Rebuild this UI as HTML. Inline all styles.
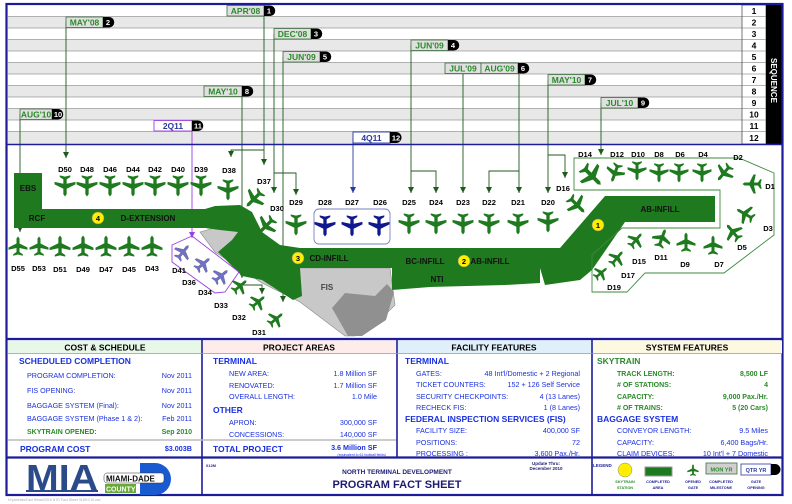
<!DOCTYPE html>
<html><head><meta charset="utf-8"><style>
body{margin:0;background:#fff}
svg{display:block;font-family:"Liberation Sans",sans-serif;font-weight:bold}
</style></head><body>
<svg width="792" height="504" viewBox="0 0 792 504" xmlns="http://www.w3.org/2000/svg">
<defs>
<symbol id="p" viewBox="-10 -10 20 20"><path d="M0,-9.5 L1.5,-7.5 L1.5,-2.5 L9.5,1.5 L9.5,3.8 L1.5,2 L1.5,6 L4.8,8.2 L4.8,9.7 L0,8.5 L-4.8,9.7 L-4.8,8.2 L-1.5,6 L-1.5,2 L-9.5,3.8 L-9.5,1.5 L-1.5,-2.5 L-1.5,-7.5Z"/></symbol>
<marker id="a" viewBox="0 0 6 6" refX="3" refY="6" markerWidth="6" markerHeight="6" markerUnits="userSpaceOnUse" orient="0"><path d="M0,0 L6,0 L3,6Z" fill="#1f5a1f"/></marker>
<marker id="ab" viewBox="0 0 6 6" refX="3" refY="6" markerWidth="6" markerHeight="6" markerUnits="userSpaceOnUse" orient="0"><path d="M0,0 L6,0 L3,6Z" fill="#2a3aa0"/></marker>
<marker id="ap" viewBox="0 0 6 6" refX="3" refY="6" markerWidth="6" markerHeight="6" markerUnits="userSpaceOnUse" orient="0"><path d="M0,0 L6,0 L3,6Z" fill="#9a40e0"/></marker>
</defs>
<rect width="792" height="504" fill="#fff"/>
<!-- sequence rows -->
<g>
<rect x="8" y="5" width="734" height="11.5" fill="#fff"/>
<rect x="8" y="16.5" width="734" height="11.5" fill="#e8e8e8"/>
<rect x="8" y="28" width="734" height="11.5" fill="#fff"/>
<rect x="8" y="39.5" width="734" height="11.5" fill="#e8e8e8"/>
<rect x="8" y="51" width="734" height="11.5" fill="#fff"/>
<rect x="8" y="62.5" width="734" height="11.5" fill="#e8e8e8"/>
<rect x="8" y="74" width="734" height="11.5" fill="#fff"/>
<rect x="8" y="85.5" width="734" height="11.5" fill="#e8e8e8"/>
<rect x="8" y="97" width="734" height="11.5" fill="#fff"/>
<rect x="8" y="108.5" width="734" height="11.5" fill="#e8e8e8"/>
<rect x="8" y="120" width="734" height="11.5" fill="#fff"/>
<rect x="8" y="131.5" width="734" height="12.5" fill="#e8e8e8"/>
<g stroke="#9a9a9a" stroke-width="0.8">
<line x1="8" y1="16.5" x2="766" y2="16.5"/><line x1="8" y1="28" x2="766" y2="28"/><line x1="8" y1="39.5" x2="766" y2="39.5"/><line x1="8" y1="51" x2="766" y2="51"/><line x1="8" y1="62.5" x2="766" y2="62.5"/><line x1="8" y1="74" x2="766" y2="74"/><line x1="8" y1="85.5" x2="766" y2="85.5"/><line x1="8" y1="97" x2="766" y2="97"/><line x1="8" y1="108.5" x2="766" y2="108.5"/><line x1="8" y1="120" x2="766" y2="120"/><line x1="8" y1="131.5" x2="766" y2="131.5"/>
</g>
<rect x="742" y="5" width="24" height="139" fill="none" stroke="#555" stroke-width="0.8"/>
<rect x="766" y="5" width="16" height="139" fill="#000"/>
<text transform="translate(771,58) rotate(90)" font-size="8" fill="#fff">SEQUENCE</text>
<g font-size="8.5" fill="#000" text-anchor="middle">
<text x="754" y="14">1</text><text x="754" y="25.5">2</text><text x="754" y="37">3</text><text x="754" y="48.5">4</text><text x="754" y="60">5</text><text x="754" y="71.5">6</text><text x="754" y="83">7</text><text x="754" y="94.5">8</text><text x="754" y="106">9</text><text x="754" y="117.5">10</text><text x="754" y="129">11</text><text x="754" y="141">12</text>
</g>
</g>
<!-- connectors -->
<g stroke="#1f5a1f" stroke-width="0.9" fill="none">
<polyline points="264,11 264,165" marker-end="url(#a)"/>
<polyline points="264,150 231,150 231,157" marker-end="url(#a)"/>
<polyline points="66,22 66,158" marker-end="url(#a)"/>
<polyline points="274,34 274,193" marker-end="url(#a)"/>
<polyline points="274,173 296,173 296,195" marker-end="url(#a)"/>
<polyline points="283,57 283,302" marker-end="url(#a)"/>
<polyline points="242,91 242,278" marker-end="url(#a)"/>
<polyline points="242,285 262,285 262,294" marker-end="url(#a)"/>
<polyline points="20,114 20,232" marker-end="url(#a)"/>
<polyline points="411,45 411,193" marker-end="url(#a)"/>
<polyline points="411,171 436,171 436,193" marker-end="url(#a)"/>
<polyline points="463,74 463,193" marker-end="url(#a)"/>
<polyline points="519,74 519,193" marker-end="url(#a)"/>
<polyline points="519,171 489,171 489,193" marker-end="url(#a)"/>
<polyline points="548,80 548,193" marker-end="url(#a)"/>
<polyline points="548,155 565,155 565,178" marker-end="url(#a)"/>
<polyline points="601,103 601,155" marker-end="url(#a)"/>
</g>
<polyline points="192,126 192,238" stroke="#9a40e0" stroke-width="0.9" fill="none" marker-end="url(#ap)"/>
<polyline points="353,138 353,193" stroke="#2a3aa0" stroke-width="0.9" fill="none" marker-end="url(#ab)"/>
<!-- milestone labels -->
<g font-size="8.5" text-anchor="middle">
<g fill="#e0e0e0" stroke="#3d6e3d" stroke-width="0.8">
<rect x="227" y="5.5" width="37" height="10.5"/><rect x="66" y="17" width="37" height="10.5"/><rect x="274" y="28.5" width="37" height="10.5"/><rect x="411" y="40" width="37" height="10.5"/><rect x="283" y="51.5" width="37" height="10.5"/><rect x="445" y="63" width="36" height="10.5"/><rect x="481" y="63" width="37" height="10.5"/><rect x="548" y="74.5" width="37" height="10.5"/><rect x="204" y="86" width="38" height="10.5"/><rect x="601" y="97.5" width="37" height="10.5"/><rect x="20" y="109" width="32" height="10.5"/>
</g>
<rect x="154" y="120.5" width="38" height="10.5" fill="#fff" stroke="#9a40e0" stroke-width="0.9"/>
<rect x="353" y="132" width="37" height="11" fill="#fff" stroke="#2a3aa0" stroke-width="0.9"/>
<g fill="#000">
<path d="M264,5.5h6a5.25,5.25 0 0 1 0,10.5h-6z"/><path d="M103,17h6a5.25,5.25 0 0 1 0,10.5h-6z"/><path d="M311,28.5h6a5.25,5.25 0 0 1 0,10.5h-6z"/><path d="M448,40h6a5.25,5.25 0 0 1 0,10.5h-6z"/><path d="M320,51.5h6a5.25,5.25 0 0 1 0,10.5h-6z"/><path d="M518,63h6a5.25,5.25 0 0 1 0,10.5h-6z"/><path d="M585,74.5h6a5.25,5.25 0 0 1 0,10.5h-6z"/><path d="M242,86h6a5.25,5.25 0 0 1 0,10.5h-6z"/><path d="M638,97.5h6a5.25,5.25 0 0 1 0,10.5h-6z"/><path d="M52,109h6a5.25,5.25 0 0 1 0,10.5h-6z"/><path d="M192,120.5h6a5.25,5.25 0 0 1 0,10.5h-6z"/><path d="M390,132h6a5.5,5.5 0 0 1 0,11h-6z"/>
</g>
<g fill="#2a8a2a">
<text x="245.5" y="14">APR'08</text><text x="84.5" y="25.5">MAY'08</text><text x="292.5" y="37">DEC'08</text><text x="429.5" y="48.5">JUN'09</text><text x="301.5" y="60">JUN'09</text><text x="463" y="71.5">JUL'09</text><text x="499.5" y="71.5">AUG'09</text><text x="566.5" y="83">MAY'10</text><text x="223" y="94.5">MAY'10</text><text x="619.5" y="106">JUL'10</text><text x="36" y="117.5">AUG'10</text>
</g>
<text x="173" y="129" fill="#2a3aa0">2Q11</text><text x="371.5" y="141" fill="#2a3aa0">4Q11</text>
<g fill="#fff" font-size="7.5">
<text x="269" y="13.5">1</text><text x="108" y="25">2</text><text x="316" y="36.5">3</text><text x="453" y="48">4</text><text x="325" y="59.5">5</text><text x="523" y="71">6</text><text x="590" y="82.5">7</text><text x="247" y="94">8</text><text x="643" y="105.5">9</text><text x="58" y="117">10</text><text x="198" y="128.5">11</text><text x="396" y="140.5">12</text>
</g>
</g>
<!-- map -->
<polygon points="200,232 235,222 255,240 282,268 390,268 395,305 378,322 355,336 345,336 300,302 262,283 215,252" fill="#c8c8c8" stroke="#888" stroke-width="0.6"/>
<polygon points="332,308 345,293 375,296 387,284 394,292 386,320 362,336 348,336" fill="#909090"/>
<g fill="#1f7a1f">
<rect x="14" y="173" width="28" height="38"/>
<polygon points="14,209 205,209 215,206 240,205 252,212 262,232 280,245 300,248 410,248 410,268 300,268 302,296 293,300 262,280 242,276 218,252 232,240 238,232 220,230 205,228 14,228"/>
<rect x="375" y="248" width="185" height="20"/>
<polygon points="392,268 540,268 540,283 505,285 430,287 392,290"/>
<polygon points="540,268 560,248 605,196 715,196 715,222 625,222 592,270 580,280 545,285"/>
</g>
<g fill="none" stroke="#3d8a3d" stroke-width="0.9">
<polygon points="574,158 739,158 774,173 774,235 724,273 645,273 627,292 592,292 592,255 622,228 720,228 720,190 574,190"/>
</g>
<polygon points="172,245 192,236 239,272 225,292 215,293 172,262" fill="none" stroke="#9a40e0" stroke-width="0.9"/>
<rect x="314" y="209" width="76" height="35" rx="5" fill="none" stroke="#7a80c0" stroke-width="0.9"/>
<g font-size="8" fill="#111" text-anchor="middle">
<text x="28" y="191">EBS</text><text x="37" y="221">RCF</text><text x="148" y="221">D-EXTENSION</text><text x="329" y="261">CD-INFILL</text><text x="327" y="290" fill="#444">FIS</text><text x="425" y="264">BC-INFILL</text><text x="490" y="264">AB-INFILL</text><text x="437" y="282">NTI</text><text x="660" y="212">AB-INFILL</text>
</g>
<g fill="#ffee00" stroke="#888" stroke-width="0.5">
<circle cx="98" cy="218" r="6"/><circle cx="298" cy="258" r="6"/><circle cx="464" cy="261" r="6"/><circle cx="598" cy="225" r="6"/>
</g>
<g font-size="7.5" fill="#000" text-anchor="middle">
<text x="98" y="221">4</text><text x="298" y="261">3</text><text x="464" y="264">2</text><text x="598" y="228">1</text>
</g>
<!-- planes -->
<g fill="#1f7a1f">
<use href="#p" x="-11" y="-11" width="22" height="22" transform="translate(65,186) rotate(180)"/>
<use href="#p" x="-11" y="-11" width="22" height="22" transform="translate(87,186) rotate(180)"/>
<use href="#p" x="-11" y="-11" width="22" height="22" transform="translate(110,186) rotate(180)"/>
<use href="#p" x="-11" y="-11" width="22" height="22" transform="translate(133,186) rotate(180)"/>
<use href="#p" x="-11" y="-11" width="22" height="22" transform="translate(155,186) rotate(180)"/>
<use href="#p" x="-11" y="-11" width="22" height="22" transform="translate(178,186) rotate(180)"/>
<use href="#p" x="-11" y="-11" width="22" height="22" transform="translate(201,186) rotate(180)"/>
<use href="#p" x="-11" y="-11" width="22" height="22" transform="translate(228,190) rotate(180)"/>
<use href="#p" x="-11" y="-11" width="22" height="22" transform="translate(254,199) rotate(225)"/>
<use href="#p" x="-11" y="-11" width="22" height="22" transform="translate(266,226) rotate(225)"/>
<use href="#p" x="-11" y="-11" width="22" height="22" transform="translate(296,225) rotate(180)"/>
<use href="#p" x="-11" y="-11" width="22" height="22" transform="translate(409,224) rotate(180)"/>
<use href="#p" x="-11" y="-11" width="22" height="22" transform="translate(436,224) rotate(180)"/>
<use href="#p" x="-11" y="-11" width="22" height="22" transform="translate(463,224) rotate(180)"/>
<use href="#p" x="-11" y="-11" width="22" height="22" transform="translate(489,224) rotate(180)"/>
<use href="#p" x="-11" y="-11" width="22" height="22" transform="translate(518,224) rotate(180)"/>
<use href="#p" x="-11" y="-11" width="22" height="22" transform="translate(548,222) rotate(180)"/>
<use href="#p" x="-11" y="-11" width="22" height="22" transform="translate(577,205) rotate(135)"/>
<use href="#p" x="-13" y="-13" width="26" height="26" transform="translate(592,176) rotate(135)"/>
<use href="#p" x="-10" y="-10" width="20" height="20" transform="translate(615,173) rotate(200)"/>
<use href="#p" x="-10" y="-10" width="20" height="20" transform="translate(637,171) rotate(180)"/>
<use href="#p" x="-10" y="-10" width="20" height="20" transform="translate(659,173) rotate(180)"/>
<use href="#p" x="-10" y="-10" width="20" height="20" transform="translate(679,173) rotate(180)"/>
<use href="#p" x="-10" y="-10" width="20" height="20" transform="translate(702,173) rotate(180)"/>
<use href="#p" x="-10" y="-10" width="20" height="20" transform="translate(724,173) rotate(220)"/>
<use href="#p" x="-10" y="-10" width="20" height="20" transform="translate(752,184) rotate(270)"/>
<use href="#p" x="-10" y="-10" width="20" height="20" transform="translate(745,214) rotate(300)"/>
<use href="#p" x="-10" y="-10" width="20" height="20" transform="translate(733,232) rotate(320)"/>
<use href="#p" x="-10" y="-10" width="20" height="20" transform="translate(713,245) rotate(0)"/>
<use href="#p" x="-10" y="-10" width="20" height="20" transform="translate(686,242) rotate(0)"/>
<use href="#p" x="-10" y="-10" width="20" height="20" transform="translate(662,238) rotate(20)"/>
<use href="#p" x="-9" y="-9" width="18" height="18" transform="translate(636,240) rotate(40)"/>
<use href="#p" x="-9" y="-9" width="18" height="18" transform="translate(617,258) rotate(40)"/>
<use href="#p" x="-8" y="-8" width="16" height="16" transform="translate(601,273) rotate(50)"/>
<use href="#p" x="-10" y="-10" width="20" height="20" transform="translate(18,246)"/>
<use href="#p" x="-10" y="-10" width="20" height="20" transform="translate(39,246)"/>
<use href="#p" x="-11" y="-11" width="22" height="22" transform="translate(60,246)"/>
<use href="#p" x="-11" y="-11" width="22" height="22" transform="translate(83,246)"/>
<use href="#p" x="-11" y="-11" width="22" height="22" transform="translate(106,246)"/>
<use href="#p" x="-11" y="-11" width="22" height="22" transform="translate(129,246)"/>
<use href="#p" x="-11" y="-11" width="22" height="22" transform="translate(152,246)"/>
<use href="#p" x="-9" y="-9" width="18" height="18" transform="translate(240,286) rotate(50)"/>
<use href="#p" x="-9" y="-9" width="18" height="18" transform="translate(258,302) rotate(50)"/>
<use href="#p" x="-9" y="-9" width="18" height="18" transform="translate(276,319) rotate(50)"/>
</g>
<g fill="#7070c8" stroke="#333" stroke-width="0.2">
<use href="#p" x="-9" y="-9" width="18" height="18" transform="translate(183,252) rotate(40)"/>
<use href="#p" x="-9" y="-9" width="18" height="18" transform="translate(203,264) rotate(50)"/>
<use href="#p" x="-9" y="-9" width="18" height="18" transform="translate(221,276) rotate(50)"/>
</g>
<g fill="#101890">
<use href="#p" x="-11" y="-11" width="22" height="22" transform="translate(325,226) rotate(180)"/>
<use href="#p" x="-11" y="-11" width="22" height="22" transform="translate(352,226) rotate(180)"/>
<use href="#p" x="-11" y="-11" width="22" height="22" transform="translate(379,226) rotate(180)"/>
</g>
<g font-size="7.5" fill="#000" text-anchor="middle">
<text x="65" y="172">D50</text><text x="87" y="172">D48</text><text x="110" y="172">D46</text><text x="133" y="172">D44</text><text x="155" y="172">D42</text><text x="178" y="172">D40</text><text x="201" y="172">D39</text><text x="229" y="173">D38</text><text x="264" y="184">D37</text><text x="277" y="211">D30</text><text x="296" y="205">D29</text><text x="325" y="205">D28</text><text x="352" y="205">D27</text><text x="380" y="205">D26</text>
<text x="409" y="205">D25</text><text x="436" y="205">D24</text><text x="463" y="205">D23</text><text x="489" y="205">D22</text><text x="518" y="205">D21</text><text x="548" y="205">D20</text><text x="563" y="191">D16</text><text x="585" y="157">D14</text><text x="617" y="157">D12</text><text x="638" y="157">D10</text><text x="659" y="157">D8</text><text x="680" y="157">D6</text><text x="703" y="157">D4</text><text x="738" y="160">D2</text><text x="770" y="189">D1</text><text x="768" y="231">D3</text><text x="742" y="250">D5</text><text x="719" y="267">D7</text><text x="685" y="267">D9</text><text x="661" y="260">D11</text><text x="639" y="264">D15</text><text x="628" y="278">D17</text><text x="614" y="290">D19</text>
<text x="18" y="271">D55</text><text x="39" y="271">D53</text><text x="60" y="272">D51</text><text x="83" y="272">D49</text><text x="106" y="272">D47</text><text x="129" y="272">D45</text><text x="152" y="271">D43</text><text x="179" y="273">D41</text><text x="189" y="285">D36</text><text x="205" y="295">D34</text><text x="221" y="308">D33</text><text x="239" y="320">D32</text><text x="259" y="335">D31</text>
</g>
<!-- frame lines -->
<g fill="none" stroke="#1c1c9a">
<rect x="6.5" y="4" width="776" height="491" stroke-width="2.2"/>
<line x1="6" y1="144.5" x2="783" y2="144.5" stroke-width="1.6"/>
<line x1="6" y1="339" x2="783" y2="339" stroke-width="2.2"/>
<line x1="6" y1="457.5" x2="783" y2="457.5" stroke-width="2.2"/>
<line x1="202" y1="339" x2="202" y2="495" stroke-width="1.6"/>
<line x1="397" y1="339" x2="397" y2="457" stroke-width="1.6"/>
<line x1="592" y1="339" x2="592" y2="495" stroke-width="1.6"/>
</g>
<!-- tables -->
<rect x="8" y="340.5" width="193" height="13" fill="#e8f8e8"/>
<rect x="203" y="340.5" width="193" height="13" fill="#fdecea"/>
<rect x="398" y="340.5" width="193" height="13" fill="#e0f0fa"/>
<rect x="593" y="340.5" width="189" height="13" fill="#fdf8e0"/>
<g stroke="#999" stroke-width="0.8"><line x1="8" y1="353.5" x2="782" y2="353.5"/><line x1="8" y1="440" x2="396" y2="440" stroke="#bbb" stroke-width="1.5"/></g>
<g font-size="8.5" fill="#000" text-anchor="middle">
<text x="105" y="350.5">COST &amp; SCHEDULE</text><text x="299" y="350.5">PROJECT AREAS</text><text x="494" y="350.5">FACILITY FEATURES</text><text x="687" y="350.5">SYSTEM FEATURES</text>
</g>
<g fill="#1a30e0" style="font-weight:normal" font-size="7.2">
<text x="19" y="364" font-size="8.5" style="font-weight:bold">SCHEDULED COMPLETION</text>
<text x="27" y="378">PROGRAM COMPLETION:</text><text x="27" y="393">FIS OPENING:</text><text x="27" y="408">BAGGAGE SYSTEM (Final):</text><text x="27" y="421">BAGGAGE SYSTEM (Phase 1 &amp; 2):</text>
<g text-anchor="end"><text x="192" y="378">Nov 2011</text><text x="192" y="393">Nov 2011</text><text x="192" y="408">Nov 2011</text><text x="192" y="421">Feb 2011</text><text x="192" y="451" style="font-weight:bold">$3.003B</text></g>
<text x="20" y="452" font-size="8.5" style="font-weight:bold">PROGRAM COST</text>
<text x="213" y="364" font-size="8.5" style="font-weight:bold">TERMINAL</text>
<text x="229" y="376">NEW AREA:</text><text x="229" y="388">RENOVATED:</text><text x="229" y="399">OVERALL LENGTH:</text>
<text x="213" y="413" font-size="8.5" style="font-weight:bold">OTHER</text>
<text x="229" y="425">APRON:</text><text x="229" y="437">CONCESSIONS:</text>
<text x="213" y="452" font-size="8.5" style="font-weight:bold">TOTAL PROJECT</text>
<g text-anchor="end"><text x="377" y="376">1.8 Million SF</text><text x="377" y="388">1.7 Million SF</text><text x="377" y="399">1.0 Mile</text><text x="377" y="425">300,000 SF</text><text x="377" y="437">140,000 SF</text><text x="377" y="450" style="font-weight:bold">3.6 Million SF</text><text x="386" y="456" font-size="3.5">(equivalent to 61 football fields)</text></g>
<text x="405" y="364" font-size="8.5" style="font-weight:bold">TERMINAL</text>
<text x="416" y="376">GATES:</text><text x="416" y="387">TICKET COUNTERS:</text><text x="416" y="399">SECURITY CHECKPOINTS:</text><text x="416" y="410">RECHECK FIS:</text>
<text x="405" y="422" font-size="8.5" style="font-weight:bold">FEDERAL INSPECTION SERVICES (FIS)</text>
<text x="416" y="433">FACILITY SIZE:</text><text x="416" y="445">POSITIONS:</text><text x="416" y="456">PROCESSING :</text>
<g text-anchor="end"><text x="580" y="376">48 Int'l/Domestic + 2 Regional</text><text x="580" y="387">152 + 126 Self Service</text><text x="580" y="399">4 (13 Lanes)</text><text x="580" y="410">1 (8 Lanes)</text><text x="580" y="433">400,000 SF</text><text x="580" y="445">72</text><text x="580" y="456">3,600 Pax./Hr.</text></g>
<text x="597" y="422" font-size="8.5" style="font-weight:bold">BAGGAGE SYSTEM</text>
<text x="617" y="433">CONVEYOR LENGTH:</text><text x="617" y="445">CAPACITY:</text><text x="617" y="456">CLAIM DEVICES:</text>
<g text-anchor="end"><text x="768" y="433">9.5 Miles</text><text x="768" y="445">6,400 Bags/Hr.</text><text x="768" y="456">10 Int'l + 7 Domestic</text></g>
</g>
<g fill="#2a8a2a" font-size="7">
<text x="27" y="434">SKYTRAIN OPENED:</text><text x="192" y="434" text-anchor="end">Sep 2010</text>
<text x="597" y="364" font-size="8.5">SKYTRAIN</text>
<text x="617" y="376">TRACK LENGTH:</text><text x="617" y="387">#&#160;OF STATIONS:</text><text x="617" y="399">CAPACITY:</text><text x="617" y="410">#&#160;OF TRAINS:</text>
<g text-anchor="end"><text x="768" y="376">8,500 LF</text><text x="768" y="387">4</text><text x="768" y="399">9,000 Pax./Hr.</text><text x="768" y="410">5 (20 Cars)</text></g>
</g>
<!-- footer logo -->
<text x="26" y="490" font-size="36" fill="#2a4a8a" textLength="72" lengthAdjust="spacingAndGlyphs">MIA</text>
<rect x="26" y="490" width="72" height="2" fill="#2a4a8a"/>
<path d="M140,463 h15 a16,16 0 0 1 0,32 h-15z" fill="#1a5ad0"/>
<rect x="104" y="473" width="60" height="10" fill="#fff" stroke="#333" stroke-width="0.5" rx="3"/>
<text x="106" y="481.5" font-size="8" fill="#111">MIAMI-DADE</text>
<rect x="105" y="484" width="31" height="9" fill="#6aa83a"/>
<text x="106" y="491.5" font-size="7" fill="#fff">COUNTY</text>
<text x="8" y="501" font-size="3.5" fill="#aaa" style="font-weight:normal">N:\portraits\Fact Sheet\2010 NTD Fact Sheet 31DEC10.vsd</text>
<text x="206" y="467" font-size="4" fill="#1c1c9a">012M</text>
<text x="397" y="474" font-size="6.5" fill="#1c1c70" text-anchor="middle">NORTH TERMINAL DEVELOPMENT</text>
<text x="397" y="488" font-size="11" fill="#1c1c70" text-anchor="middle">PROGRAM FACT SHEET</text>
<text x="546" y="465" font-size="4.5" fill="#1c1c70" text-anchor="middle">Update Thru:</text>
<text x="546" y="470" font-size="4.5" fill="#1c1c70" text-anchor="middle">December 2010</text>
<!-- legend -->
<text x="593" y="467" font-size="4.5" fill="#1c1c9a">LEGEND</text>
<circle cx="625" cy="470" r="7" fill="#ffee00" stroke="#888" stroke-width="0.5"/>
<rect x="645" y="467" width="27" height="9" fill="#1f7a1f" stroke="#999" stroke-width="1"/>
<use href="#p" x="-6" y="-6" width="12" height="12" transform="translate(693,470)" fill="#1f7a1f"/>
<rect x="706" y="463" width="31" height="11" fill="#d0d0d0" stroke="#3d6e3d" stroke-width="0.8"/>
<text x="721.5" y="471.5" font-size="5.5" fill="#2a8a2a" text-anchor="middle">MON YR</text>
<rect x="741" y="464" width="30" height="11" fill="#fff" stroke="#2a3aa0" stroke-width="0.8"/>
<path d="M771,464h4a5.5,5.5 0 0 1 0,11h-4z" fill="#000"/>
<text x="756" y="472" font-size="5.5" fill="#2a3aa0" text-anchor="middle">QTR YR</text>
<g font-size="3.8" text-anchor="middle"><g fill="#2a8a2a"><text x="625" y="483">SKYTRAIN</text><text x="625" y="489">STATION</text></g>
<g fill="#1c1c9a"><text x="658" y="483">COMPLETED</text><text x="658" y="489">AREA</text><text x="693" y="483">OPENED</text><text x="693" y="489">GATE</text><text x="721" y="483">COMPLETED</text><text x="721" y="489">MILESTONE</text><text x="756" y="483">GATE</text><text x="756" y="489">OPENING</text></g></g>
</svg>
</body></html>
